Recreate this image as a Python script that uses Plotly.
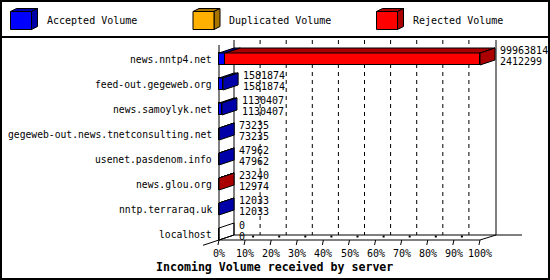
import plotly.graph_objects as go

# ---------------- data ----------------
hosts = ["news.nntp4.net", "feed-out.gegeweb.org", "news.samoylyk.net",
         "gegeweb-out.news.tnetconsulting.net", "usenet.pasdenom.info",
         "news.glou.org", "nntp.terraraq.uk", "localhost"]
total_volume = [99963814, 1581874, 1130407, 73235, 47962, 23240, 12033, 0]
accepted_volume = [2412299, 1581874, 1130407, 73235, 47962, 12974, 12033, 0]
duplicated_volume = [0, 0, 0, 0, 0, 0, 0, 0]
rejected_volume = [97551515, 0, 0, 0, 0, 10266, 0, 0]
series_names = ["Accepted Volume", "Duplicated Volume", "Rejected Volume"]
tick_labels = ["0%", "10%", "20%", "30%", "40%", "50%", "60%", "70%", "80%", "90%", "100%"]
tick_values = [0, 10, 20, 30, 40, 50, 60, 70, 80, 90, 100]
chart_title = "Incoming Volume received by server"

# ---------------- styles ----------------
W, H = 550, 280
front_colors = ["#0000FF", "#FFB000", "#FF0000"]
dark_colors = ["#0000A8", "#A87400", "#AA0000"]
FONT = "DejaVu Sans Mono"
X0PX, XS = 219.0, 2.61   # pixel of 0 %, pixels per %
Y0PX, YS = 59.0, 25.0    # pixel of first row, pixels per row
DX = 15 / XS             # depth offsets in data units
DY = -5 / YS
HALF = 0.24              # half bar thickness


def xd(px):
    return (px - X0PX) / XS


def yd(py):
    return (py - Y0PX) / YS


def px_paper(px):
    return px / W


def py_paper(py):
    return 1 - py / H


max_total = max(total_volume)
series = [accepted_volume, duplicated_volume, rejected_volume]
pcts = [[v / max_total * 100 for v in s] for s in series]
rows = list(range(len(hosts)))

fig = go.Figure()
for name, p, col in zip(series_names, pcts, front_colors):
    fig.add_trace(go.Bar(
        y=rows, x=p, orientation="h", width=2 * HALF, name=name,
        marker=dict(color=col, line=dict(color="black", width=1)),
        showlegend=False, hoverinfo="skip"))

shapes = []


def line(x0, y0, x1, y1, width=1, dash=None, layer="below", ref="x"):
    d = dict(type="line", x0=x0, y0=y0, x1=x1, y1=y1, layer=layer,
             line=dict(color="black", width=width))
    if dash:
        d["line"]["dash"] = dash
    if ref == "x":
        d.update(xref="x", yref="y")
    else:
        d.update(xref="paper", yref="paper")
    shapes.append(d)


# back wall / floor (decorations)
line(xd(219), yd(45), xd(219), yd(240))
line(xd(234), yd(40), xd(234), yd(235))
line(xd(496), yd(40), xd(496), yd(235))
line(xd(234), yd(235), xd(522), yd(235))
line(xd(219), yd(240), xd(480), yd(240))
line(xd(480), yd(240), xd(496), yd(235))
line(xd(203), yd(245.3), xd(234), yd(235))
for t in tick_values[1:-1]:
    line(t + DX, yd(40), t + DX, yd(235), dash="4px,4px")
for t in tick_values:
    line(t, yd(240), t - 0.4, yd(245))
for t in tick_values[1:-1]:
    shapes.append(dict(type="rect", xref="x", yref="y", x0=t + 7 / XS, x1=t + 9 / XS,
                       y0=yd(235.5), y1=yd(237.5), fillcolor="black",
                       line=dict(width=0), layer="below"))

# 3D faces of bars
for i in rows:
    yt = i - HALF
    yb = i + HALF
    start = 0.0
    last = None
    for k in range(3):
        w = pcts[k][i]
        if w > 0:
            x0, x1 = start, start + w
            shapes.append(dict(
                type="path", xref="x", yref="y", layer="above",
                path=f"M {x0},{yt} L {x1},{yt} L {x1 + DX},{yt + DY} L {x0 + DX},{yt + DY} Z",
                fillcolor=dark_colors[k], line=dict(color="black", width=1)))
            last = (k, x1)
            start = x1
    if last is not None:
        k, x1 = last
        fill = dark_colors[k]
    else:
        x1, fill = 0.0, "rgba(0,0,0,0)"
    shapes.append(dict(
        type="path", xref="x", yref="y", layer="above",
        path=f"M {x1},{yt} L {x1 + DX},{yt + DY} L {x1 + DX},{yb + DY} L {x1},{yb} Z",
        fillcolor=fill, line=dict(color="black", width=1)))

# outer border and legend separator
shapes.append(dict(type="rect", xref="paper", yref="paper", x0=px_paper(1), x1=px_paper(549),
                   y0=py_paper(279), y1=py_paper(1), line=dict(color="black", width=2),
                   fillcolor="rgba(0,0,0,0)", layer="above"))
line(0, py_paper(37), 1, py_paper(37), width=2, ref="paper", layer="above")

annotations = []

# legend
legend_x = [10.5, 193.0, 376.5]
for name, x0, fc, dc in zip(series_names, legend_x, front_colors, dark_colors):
    x1 = x0 + 21
    y0, y1 = 11.5, 29.5
    ox, oy = 6, -3
    def pp(x, y):
        return f"{px_paper(x)},{py_paper(y)}"
    shapes.append(dict(type="path", xref="paper", yref="paper", layer="above",
                       path=f"M {pp(x0, y0)} L {pp(x0 + ox, y0 + oy)} L {pp(x1 + ox, y0 + oy)} L {pp(x1, y0)} Z",
                       fillcolor=dc, line=dict(color="black", width=1)))
    shapes.append(dict(type="path", xref="paper", yref="paper", layer="above",
                       path=f"M {pp(x1, y0)} L {pp(x1 + ox, y0 + oy)} L {pp(x1 + ox, y1 + oy)} L {pp(x1, y1)} Z",
                       fillcolor=dc, line=dict(color="black", width=1)))
    shapes.append(dict(type="rect", xref="paper", yref="paper", layer="above",
                       x0=px_paper(x0), x1=px_paper(x1), y0=py_paper(y1), y1=py_paper(y0),
                       fillcolor=fc, line=dict(color="black", width=1)))
    annotations.append(dict(x=px_paper(x1 + 13), y=py_paper(21), xref="paper", yref="paper",
                            text=name, showarrow=False, xanchor="left", yanchor="middle",
                            font=dict(family=FONT, size=10, color="black")))

# category labels and values
for i, h in enumerate(hosts):
    annotations.append(dict(x=xd(214), y=i, xref="x", yref="y", text=h, showarrow=False,
                            xanchor="right", yanchor="middle",
                            font=dict(family=FONT, size=9.7, color="black")))
    end = total_volume[i] / max_total * 100
    annotations.append(dict(x=end + 18 / XS, y=i - 9 / YS, xref="x", yref="y",
                            text=str(total_volume[i]), showarrow=False,
                            xanchor="left", yanchor="middle",
                            font=dict(family=FONT, size=10, color="black")))
    annotations.append(dict(x=end + 18 / XS, y=i + 2 / YS, xref="x", yref="y",
                            text=str(accepted_volume[i]), showarrow=False,
                            xanchor="left", yanchor="middle",
                            font=dict(family=FONT, size=10, color="black")))

for t, lab in zip(tick_values, tick_labels):
    annotations.append(dict(x=t, y=yd(253), xref="x", yref="y", text=lab, showarrow=False,
                            xanchor="center", yanchor="middle",
                            font=dict(family=FONT, size=10, color="black")))

annotations.append(dict(x=px_paper(274.5), y=py_paper(267), xref="paper", yref="paper",
                        text=f"<b>{chart_title}</b>", showarrow=False,
                        xanchor="center", yanchor="middle",
                        font=dict(family=FONT, size=11.6, color="black")))

fig.update_layout(
    width=W, height=H, margin=dict(l=0, r=0, t=0, b=0, pad=0),
    paper_bgcolor="white", plot_bgcolor="white", barmode="stack", bargap=0,
    xaxis=dict(range=[xd(0), xd(W)], visible=False, fixedrange=True),
    yaxis=dict(range=[yd(H), yd(0)], visible=False, fixedrange=True),
    shapes=shapes, annotations=annotations, showlegend=False,
)
fig.write_html("out.html", config={"displayModeBar": False})
